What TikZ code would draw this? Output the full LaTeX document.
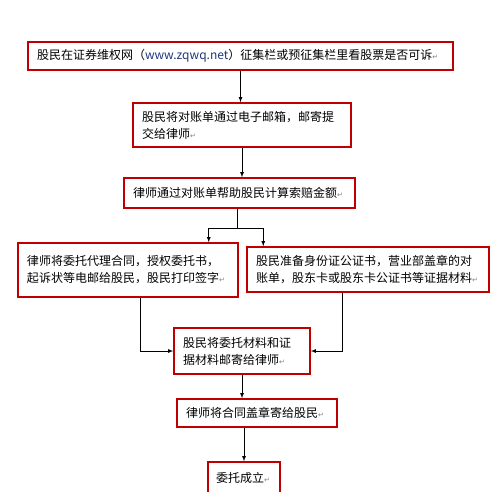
\documentclass[tikz,border=0pt]{standalone}
\usepackage{fontspec}
\usepackage{tikz}
\usetikzlibrary{arrows}
\usetikzlibrary{positioning}
\newfontfamily\cjk{Noto Sans CJK SC}
\newfontfamily\markfont{DejaVu Sans}
\definecolor{boxred}{RGB}{192,0,0}
\definecolor{linkblue}{RGB}{31,56,120}
\newcommand{\pmark}{{\markfont\fontsize{7}{7}\selectfont\color{gray}↵}}
\tikzset{flow/.style = {draw = boxred, line width = 1.5pt, fill = white, align = left,
    inner xsep = 9pt, inner ysep = 0pt, font = \cjk\fontsize{12}{17}\selectfont}}
\tikzset{conn/.style = {-latex, line width = 0.8pt}}

\begin{document}
\begin{tikzpicture}[x=1pt, y=-1pt]
      \useasboundingbox (0,0) rectangle (500,491);

      \node [flow, text width=407pt, minimum height=28pt] (b1) at (240.5, 56)
        {股民在证券维权网（{\color{linkblue}www.zqwq.net}）征集栏或预征集栏里看股票是否可诉\pmark};
      \node [flow, text width=200pt, minimum height=44pt] (b2) at (242, 125)
        {股民将对账单通过电子邮箱，邮寄提\\交给律师\pmark};
      \node [flow, text width=213pt, minimum height=30pt] (b3) at (239.5, 193)
        {律师通过对账单帮助股民计算索赔金额\pmark};
      \node [flow, text width=202pt, minimum height=54pt] (b4) at (128, 270)
        {律师将委托代理合同，授权委托书，\\起诉状等电邮给股民，股民打印签字\pmark};
      \node [flow, text width=224pt, minimum height=45pt] (b5) at (368, 269.5)
        {股民准备身份证公证书，营业部盖章的对\\账单，股东卡或股东卡公证书等证据材料\pmark};
      \node [flow, text width=118pt, minimum height=46pt] (b6) at (242, 351)
        {股民将委托材料和证\\据材料邮寄给律师\pmark};
      \node [flow, text width=142pt, minimum height=28pt] (b7) at (257, 413)
        {律师将合同盖章寄给股民\pmark};
      \node [flow, text width=56pt, inner xsep=8pt, minimum height=32pt] (b8) at (244, 478)
        {委托成立\pmark};

      \draw [conn] (b1.south) -- (b1.south |- b2.north);
      \draw [conn] (b2.south) -- (b2.south |- b3.north);
      \coordinate (split) at (237, 228);
      \draw [line width = 0.8pt] (b3.south -| split) -- (split);
      \draw [conn] (split) -| ([xshift=-30pt]b4.north east);
      \draw [conn] (split) -| ([xshift=17pt]b5.north west);
      \draw [conn] ([xshift=-98pt]b4.south east) |- (b6.west);
      \draw [conn] ([xshift=96pt]b5.south west) |- (b6.east);
      \draw [conn] (b6.south) -- (b6.south |- b7.north);
      \draw [conn] (b8.north |- b7.south) -- (b8.north);
    \end{tikzpicture}
\end{document}
